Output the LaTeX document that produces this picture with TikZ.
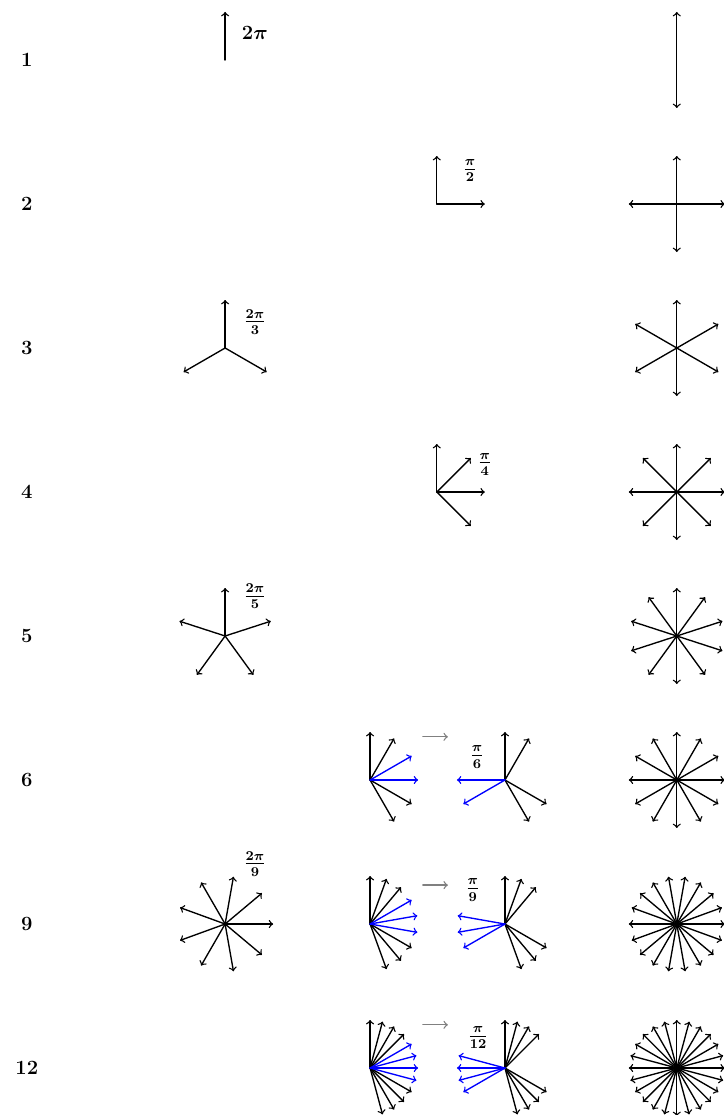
\documentclass[tikz,border=0pt]{standalone}
\usepackage{amsmath,amssymb}
\usepackage{tikz}
\usepackage{xcolor}

\begin{document}
\begin{tikzpicture}[thick,line cap=round,font=\large\boldmath,
  vec/.style={->},
  flip/.style={->,blue},
  moveon/.style={->,gray}]
\useasboundingbox (0,1.25) rectangle (15.083,-21.979);
% row numbers
\foreach \n/\y in {1/0,2/-3,3/-6,4/-9,5/-12,6/-15,9/-18,12/-21}
  \node[font=\large\bfseries] (row\n) at (0.56,\y) {\n};
% left column: n vectors, angle 2pi/n
\foreach \n/\y/\s in {1/0/90,3/-6/90,5/-12/90,9/-18/0} {
  \coordinate (odd\n) at (4.69,\y);
  \foreach \k [evaluate=\k as \a using \s+360*\k/\n] in {1,...,\n}
    \draw[vec] (odd\n) -- ++(\a:1);
}
\node (lab1) at (5.31,0.56) {$2\pi$};
\node (lab3) at (5.31,-5.46) {$\frac{2\pi}{3}$};
\node (lab5) at (5.31,-11.17) {$\frac{2\pi}{5}$};
\node (lab9) at (5.31,-16.75) {$\frac{2\pi}{9}$};
% middle column: n vectors, angle pi/n
\foreach \n/\m/\y in {2/1/-3,4/3/-9} {
  \coordinate (half\n) at (9.10,\y);
  \foreach \k [evaluate=\k as \a using 90-180*\k/\n] in {0,...,\m}
    \draw[vec] (half\n) -- ++(\a:1);
}
\node (lab2) at (9.79,-2.31) {$\frac{\pi}{2}$};
\node (lab4) at (10.10,-8.42) {$\frac{\pi}{4}$};
% n = 6
\coordinate (pre6) at (7.71,-15);
\coordinate (post6) at (10.52,-15);
\foreach \a in {90,60,-30,-60} {
  \draw[vec] (pre6) -- ++(\a:1);
  \draw[vec] (post6) -- ++(\a:1);
}
\foreach \a in {30,0} {
  \draw[flip] (pre6) -- ++(\a:1);
  \draw[flip] (post6) -- ++(\a+180:1);
}
\coordinate (from6) at (8.81,-14.1);
\coordinate (to6) at (9.33,-14.1);
\draw[moveon] (from6) -- (to6);
\node (lab6) at (9.94,-14.52) {$\frac{\pi}{6}$};
% n = 9
\coordinate (pre9) at (7.71,-18);
\coordinate (post9) at (10.52,-18);
\foreach \a in {90,70,50,-30,-50,-70} {
  \draw[vec] (pre9) -- ++(\a:1);
  \draw[vec] (post9) -- ++(\a:1);
}
\foreach \a in {30,10,-10} {
  \draw[flip] (pre9) -- ++(\a:1);
  \draw[flip] (post9) -- ++(\a+180:1);
}
\coordinate (from9) at (8.81,-17.19);
\coordinate (to9) at (9.33,-17.19);
\draw[moveon] (from9) -- (to9);
\node (lab9b) at (9.85,-17.29) {$\frac{\pi}{9}$};
% n = 12
\coordinate (pre12) at (7.71,-21);
\coordinate (post12) at (10.52,-21);
\foreach \a in {90,75,60,45,-30,-45,-60,-75} {
  \draw[vec] (pre12) -- ++(\a:1);
  \draw[vec] (post12) -- ++(\a:1);
}
\foreach \a in {30,15,0,-15} {
  \draw[flip] (pre12) -- ++(\a:1);
  \draw[flip] (post12) -- ++(\a+180:1);
}
\coordinate (from12) at (8.81,-20.1);
\coordinate (to12) at (9.33,-20.1);
\draw[moveon] (from12) -- (to12);
\node (lab12) at (9.96,-20.37) {$\frac{\pi}{12}$};
% right column: 2n vectors, angle pi/n
\foreach \n/\m/\y/\s in {1/2/0/90,2/4/-3/90,3/6/-6/90,4/8/-9/90,5/10/-12/90,6/12/-15/90,9/18/-18/0,12/24/-21/90} {
  \coordinate (all\n) at (14.10,\y);
  \foreach \k [evaluate=\k as \a using \s+180*\k/\n] in {1,...,\m}
    \draw[vec] (all\n) -- ++(\a:1);
}
\end{tikzpicture}
\end{document}
